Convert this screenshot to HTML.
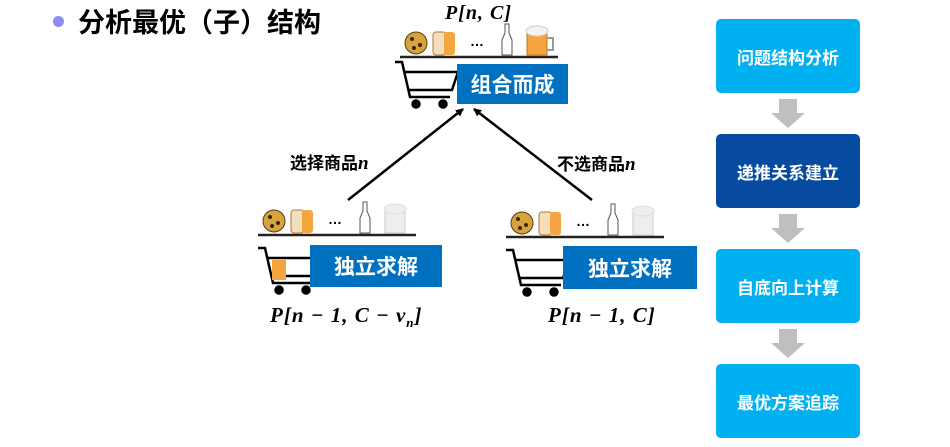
<!DOCTYPE html>
<html><head><meta charset="utf-8"><style>
body{margin:0;width:950px;height:447px;background:#fff;position:relative;overflow:hidden;font-family:"Liberation Sans","Noto Sans CJK SC",sans-serif}
.a{position:absolute}
.fb{background:#00b0f0;color:#fff;font-weight:bold;font-size:17px;border-radius:5px;display:flex;align-items:center;justify-content:center;width:144px;height:74px;left:716px}
.bx{background:#0070c0;color:#fff;font-weight:bold;font-size:21px;display:flex;align-items:center;justify-content:center}
.m{font-family:"Liberation Serif","DejaVu Serif",serif;font-weight:bold;font-size:21px;font-style:italic;letter-spacing:1px;white-space:nowrap}
.lbl{font-weight:bold;font-size:17px}
</style></head><body>
<div class="a" style="left:53px;top:16px;width:11px;height:11px;border-radius:50%;background:#8b8bf0"></div>
<div class="a" style="left:78px;top:1px;font-size:27px;font-weight:bold">分析最优（子）结构</div>

<div class="fb a" style="top:19px">问题结构分析</div>
<div class="fb a" style="top:134px;background:#074ba0">递推关系建立</div>
<div class="fb a" style="top:249px">自底向上计算</div>
<div class="fb a" style="top:364px">最优方案追踪</div>
<svg class="a" style="left:0;top:0" width="950" height="447">
<g fill="#bfbfbf">
<polygon points="779,99 797,99 797,113 805,113 788,128 771,113 779,113"/>
<polygon points="779,214 797,214 797,228 805,228 788,243 771,228 779,228"/>
<polygon points="779,329 797,329 797,343 805,343 788,358 771,343 779,343"/>
</g>
<defs><marker id="ar" markerWidth="8" markerHeight="8" refX="7" refY="4" orient="auto" markerUnits="userSpaceOnUse"><path d="M0,0L8,4L0,8z" fill="#000"/></marker></defs>
<line x1="348" y1="200" x2="463" y2="109" stroke="#000" stroke-width="2.5" marker-end="url(#ar)"/>
<line x1="592" y1="200" x2="474" y2="109" stroke="#000" stroke-width="2.5" marker-end="url(#ar)"/>
<line x1="400" y1="57" x2="558" y2="57" stroke="#222" stroke-width="2.5"/>
<line x1="258" y1="235" x2="416" y2="235" stroke="#222" stroke-width="2.5"/>
<line x1="506" y1="237" x2="664" y2="237" stroke="#222" stroke-width="2.5"/>
<g id="it">
<circle cx="416" cy="43" r="11" fill="#d7a33c" stroke="#5a3a10"/>
<circle cx="412" cy="39" r="2" fill="#3a2508"/><circle cx="420" cy="45" r="2" fill="#3a2508"/><circle cx="414" cy="48" r="2" fill="#3a2508"/>
<rect x="433" y="32" width="13" height="23" rx="3" fill="#f3dfbb" stroke="#b07a30"/>
<rect x="444" y="32" width="11" height="23" rx="3" fill="#f4a540"/>
<text x="470" y="46" font-size="14" font-weight="bold">…</text>
<path d="M502,55 L502,40 L505,33 L505,24 L509,24 L509,33 L512,40 L512,55Z" fill="#fff" stroke="#555"/>
</g>
<path d="M527,55 L527,33 L547,33 L547,55Z" fill="#f4a540" stroke="#c07a20"/>
<path d="M547,38 h6 v12 h-6" fill="none" stroke="#999" stroke-width="2"/>
<ellipse cx="537" cy="31" rx="11" ry="5" fill="#f3f3f3" stroke="#ccc"/>
<use href="#it" x="-142" y="178"/>
<path d="M385,233 L385,211 L405,211 L405,233Z" fill="#eee" stroke="#ccc"/>
<ellipse cx="395" cy="209" rx="11" ry="5" fill="#eee" stroke="#ddd"/>
<use href="#it" x="106" y="180"/>
<path d="M633,235 L633,213 L653,213 L653,235Z" fill="#eee" stroke="#ccc"/>
<ellipse cx="643" cy="211" rx="11" ry="5" fill="#eee" stroke="#ddd"/>
<g id="cart" fill="none" stroke="#000" stroke-width="2.5">
<path d="M395,62 L402,62 L410,97 L450,97"/>
<path d="M404,72 L458,72 L452,90 L408,90"/>
<circle cx="416" cy="104" r="3.5" fill="#000"/><circle cx="443" cy="104" r="3.5" fill="#000"/>
</g>
<use href="#cart" x="-137" y="186"/>
<rect x="272" y="260" width="14" height="20" fill="#f4a540"/>
<use href="#cart" x="111" y="188"/>
</svg>
<div class="a bx" style="left:457px;top:64px;width:111px;height:40px">组合而成</div>
<div class="a bx" style="left:310px;top:245px;width:132px;height:42px">独立求解</div>
<div class="a bx" style="left:563px;top:246px;width:134px;height:43px">独立求解</div>
<div class="a m" style="left:445px;top:2px;font-size:20px">P[n, C]</div>
<div class="a m" style="left:270px;top:303px">P[n − 1, C − v<sub style="font-size:13px">n</sub>]</div>
<div class="a m" style="left:548px;top:303px">P[n − 1, C]</div>
<div class="a lbl" style="left:290px;top:149px">选择商品<span class="m" style="font-size:19px">n</span></div>
<div class="a lbl" style="left:557px;top:150px">不选商品<span class="m" style="font-size:19px">n</span></div>
</body></html>
